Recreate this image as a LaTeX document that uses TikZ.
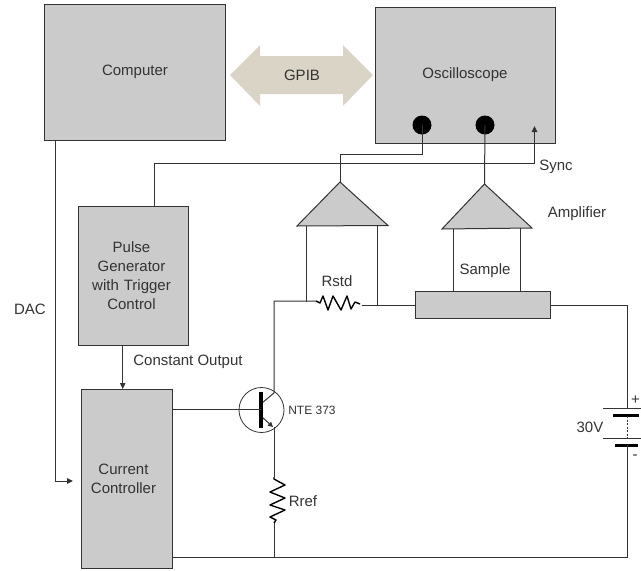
\documentclass[tikz,border=0pt]{standalone}
\usepackage{fontspec}
\setmainfont{Liberation Sans}
\usetikzlibrary{arrows.meta}
\definecolor{boxgray}{HTML}{CBCBCB}
\definecolor{wirec}{HTML}{333333}
\definecolor{txtc}{HTML}{333333}
\definecolor{gpibc}{HTML}{DAD4C6}
\tikzset{
  box/.style={draw=wirec,fill=boxgray,line width=1pt,inner sep=0pt,outer sep=0pt},
  wire/.style={draw=wirec,line width=1pt},
  awire/.style={wire,-{Triangle[length=6pt,width=5.5pt]}},
  amp/.style={draw=wirec,fill=boxgray,line width=1pt,line join=miter},
  lab/.style={text=txtc,font=\fontsize{15}{18}\selectfont,inner sep=0pt,align=center},
  small/.style={text=txtc,font=\fontsize{12}{14}\selectfont,inner sep=0pt},
  jack/.style={circle,fill=black,minimum size=19pt,inner sep=0pt,outer sep=0pt},
  zig/.style={draw=black,line width=1.4pt,line join=round},
}
\begin{document}
\begin{tikzpicture}[x=1pt,y=-1pt]
\useasboundingbox (0,0) rectangle (641,571);
% GPIB arrow
\fill[gpibc] (230,75) -- (260,45) -- (260,56) -- (343,56) -- (343,45) -- (373,75) -- (343,106) -- (343,94) -- (260,94) -- (260,106) -- cycle;
\node[lab] (gpib) at (302,75) {GPIB};
% Boxes
\node[box,minimum width=180.5pt,minimum height=136pt] (computer) at (135.2,72.8) {};
\node[lab] (computertext) at (135,72) {Computer};
\node[box,minimum width=180pt,minimum height=136pt] (scope) at (465,75) {};
\node[lab] (scopetext) at (465,75) {Oscilloscope};
\node[box,minimum width=110pt,minimum height=139pt] (pulse) at (133,275.5) {};
\node[lab,text width=105pt] (pulsetext) at (131.5,275.5) {Pulse\\[1pt]Generator\\[1pt]with Trigger\\[1pt]Control};
\node[box,minimum width=91pt,minimum height=179pt] (ctrl) at (126.5,478.5) {};
\node[lab,text width=90pt] (ctrltext) at (123.5,478.5) {Current\\[1pt]Controller};
\node[box,minimum width=135pt,minimum height=27pt] (sample) at (482.5,304.5) {};
% jacks
\node[jack] (jack1) at (422,125) {};
\node[jack] (jack2) at (485,125) {};
% amplifiers
\coordinate (a1top) at (340,182);
\coordinate (a1l) at (297,226);
\coordinate (a1r) at (388,225.5);
\coordinate (a2top) at (484.5,184);
\coordinate (a2l) at (442,229);
\coordinate (a2r) at (532,228);
% wires to oscilloscope
\coordinate (k1) at (340,154);
\draw[wire] (jack1.center) -- (422,154) -- (k1) -- (a1top);
\draw[wire] (jack2.center) -- (a2top);
\coordinate (syncEnd) at (534.5,126);
\coordinate (k2) at (534.5,163.5);
\draw[awire] (pulse.north -| 154,0) -- (154,163.5) -- (k2) -- (syncEnd);
\draw[amp] (a1top) -- (a1l) -- (a1r) -- cycle;
\draw[amp] (a2top) -- (a2l) -- (a2r) -- cycle;
% amplifier inputs
\coordinate (rstdL) at (316,301);
\coordinate (rstdR) at (360,304);
\draw[wire] (306.5,226) -- (306.5,302);
\draw[wire] (377,225.5) -- (377,305.5);
\draw[wire] (453.5,229) -- (453.5,291);
\draw[wire] (520,228) -- (520,291);
% Rstd
\draw[zig] (rstdL) -- (320,303) -- (323,296) -- (328,310) -- (333,296) -- (341,310) -- (347,296) -- (351,309) -- (355,302) -- (rstdR);
% collector / emitter rail
\node[circle,draw=txtc,line width=.8pt,minimum size=45pt,inner sep=0pt,outer sep=0pt] (trans) at (261.5,410) {};
\coordinate (bar1) at (261,392);
\coordinate (bar2) at (261,428);
\draw[wire] (rstdL) -- (274,301) -- (274,393) -- (262,403);
\draw[wire] (362,305.5) -- (sample.west |- 0,305.5);
\coordinate (rrefT) at (274,477);
\coordinate (rrefB) at (274,523);
\draw[wire,-{Triangle[length=5pt,width=5pt]}] (262,417) -- (273,427);
\draw[wire] (274,427) -- (rrefT);
\draw[zig] (rrefT) -- (274,479) -- (285,485) -- (270,492) -- (285,498) -- (270,505) -- (285,510) -- (270,517) -- (276,520) -- (rrefB);
\draw[wire] (rrefB) -- (274,557);
\draw[line width=4.5pt,black] (bar1) -- (bar2);
\draw[wire] (ctrl.east |- 0,409) -- (261,409);
% other control wires
\draw[awire] (pulse.south -| 122.7,0) -- (ctrl.north -| 122.7,0);
\coordinate (dac1) at (55.7,141);
\coordinate (dac2) at (73,481);
\draw[awire] (dac1) -- (55.7,481) -- (dac2);
% battery and right rail
\coordinate (batTop) at (627,408);
\coordinate (batBot) at (627,445);
\draw[wire] (sample.east |- 0,305) -- (627,305) -- (batTop);
\draw[wire] (603,408) -- (641,408);
\draw[black,line width=3pt] (613,415) -- (639,415);
\draw[wire,dashed,dash pattern=on 2pt off 1.5pt,line width=.8pt] (627,416) -- (627,438);
\draw[wire] (603,438) -- (641,438);
\draw[black,line width=3pt] (615,445) -- (638,445);
\draw[wire] (batBot) -- (627,557) -- (ctrl.east |- 0,557);
% labels
\node[lab] (l1) at (556,167) {Sync};
\node[lab] (l2) at (577,214) {Amplifier};
\node[lab] (l3) at (485,271) {Sample};
\node[lab] (l4) at (337,281) {Rstd};
\node[lab] (l5) at (30,309) {DAC};
\node[lab] (l6) at (188,362) {Constant Output};
\node[small] (l7) at (312,410) {NTE 373};
\node[lab] (l8) at (303,501) {Rref};
\node[lab] (l9) at (590,427) {30V};
\node[lab] (l10) at (635.5,400) {+};
\node[lab] (l11) at (635,457) {-};
\end{tikzpicture}
\end{document}
